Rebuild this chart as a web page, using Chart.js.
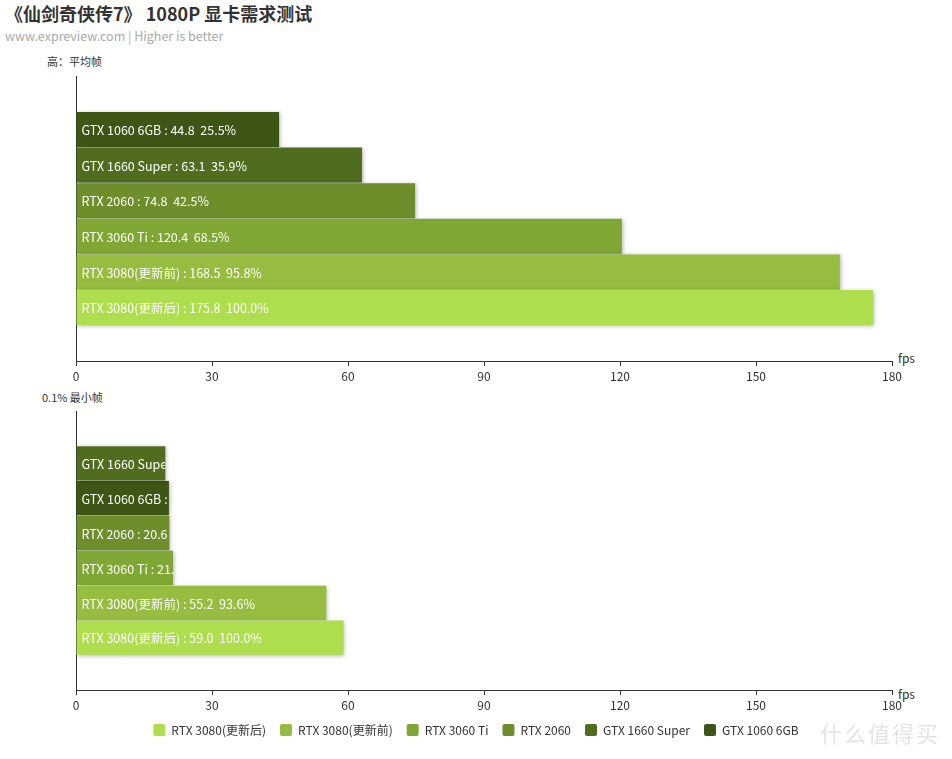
<!DOCTYPE html>
<html>
<head>
<meta charset="utf-8">
<script src="https://cdn.jsdelivr.net/npm/chart.js@4.4.0/dist/chart.umd.min.js"></script>
<style>
  body { margin: 0; background: #fff; width: 952px; height: 759px; position: relative; overflow: hidden;
         font-family: "Microsoft YaHei", "Noto Sans CJK SC", sans-serif; }
  .t { position: absolute; white-space: nowrap; color: #333; }
  #title { left: 5px; top: 0px; font-size: 18px; font-weight: bold; }
  #sub { left: 5px; top: 26px; font-size: 12.5px; color: #aaa; }
  #n1 { left: 47px; top: 53px; font-size: 11px; }
  #n2 { left: 42px; top: 389px; font-size: 11px; }
  .fps { font-size: 12px; }
  #wm { right: 12px; top: 716px; font-size: 22px; color: #e4e4e4; letter-spacing: 2px; }
  canvas { position: absolute; left: 0; }
</style>
</head>
<body>
<div class="t" id="title">《仙剑奇侠传7》 1080P 显卡需求测试</div>
<div class="t" id="sub">www.expreview.com | Higher is better</div>
<div class="t" id="n1">高：平均帧</div>
<div class="t" id="n2">0.1% 最小帧</div>
<div class="t fps" style="left:898px;top:349px">fps</div>
<div class="t fps" style="left:898px;top:685px">fps</div>
<canvas id="avg" width="952" height="390" style="top:0"></canvas>
<canvas id="min" width="952" height="369" style="top:390px"></canvas>
<div class="t" id="wm">什么值得买</div>
<script>
// legend order
const gpus = ['RTX 3080(更新后)', 'RTX 3080(更新前)', 'RTX 3060 Ti', 'RTX 2060', 'GTX 1660 Super', 'GTX 1060 6GB']
const avgFps = [175.8, 168.5, 120.4, 74.8, 63.1, 44.8]
const minFps = [59.0, 55.2, 21.4, 20.6, 19.7, 20.5]
// row order, top to bottom
const avgRows = ['GTX 1060 6GB', 'GTX 1660 Super', 'RTX 2060', 'RTX 3060 Ti', 'RTX 3080(更新前)', 'RTX 3080(更新后)']
const minRows = ['GTX 1660 Super', 'GTX 1060 6GB', 'RTX 2060', 'RTX 3060 Ti', 'RTX 3080(更新前)', 'RTX 3080(更新后)']
const fpsMin = 0
const fpsMax = 180
const fpsStep = 30

const colors = ['#aedd4d', '#96bc40', '#80a634', '#6d8e2b', '#506c1f', '#3d5515']
const FONT = '"Microsoft YaHei", "Noto Sans CJK SC", sans-serif'

// soft shadow under bars, then white labels clipped to each bar
const barDeco = {
  id: 'barDeco',
  beforeDatasetsDraw(chart) {
    const ctx = chart.ctx
    ctx.save()
    ctx.shadowColor = 'rgba(0, 0, 0, 0.3)'
    ctx.shadowBlur = 4
    ctx.shadowOffsetX = 1
    ctx.shadowOffsetY = 1
  },
  afterDatasetsDraw(chart) {
    const ctx = chart.ctx
    ctx.restore()
    const vals = chart.data.datasets.map(d => d.data.find(v => v !== null))
    const top = Math.max(...vals)
    chart.data.datasets.forEach((ds, i) => {
      const meta = chart.getDatasetMeta(i)
      meta.data.forEach((bar, j) => {
        const v = ds.data[j]
        if (v === null || v === undefined) return
        const h = bar.height
        ctx.save()
        ctx.beginPath()
        ctx.rect(bar.base, bar.y - h / 2, bar.x - bar.base, h)
        ctx.clip()
        ctx.fillStyle = '#fff'
        ctx.font = '12.5px ' + FONT
        ctx.textBaseline = 'middle'
        const pct = (v / top * 100).toFixed(1)
        ctx.fillText(`${ds.label} : ${v.toFixed(1)}  ${pct}%`, bar.base + 5, bar.y + 1)
        ctx.restore()
      })
    })
  }
}

function makeChart(id, rows, values, opts) {
  const labels = ['', ...rows, '']
  const datasets = gpus.map((g, i) => ({
    label: g,
    data: labels.map(l => (l === g ? values[i] : null)),
    backgroundColor: colors[i],
    borderWidth: 0,
    categoryPercentage: 1,
    barPercentage: 0.98
  }))
  return new Chart(document.getElementById(id), {
    type: 'bar',
    data: { labels, datasets },
    plugins: [barDeco],
    options: {
      indexAxis: 'y',
      responsive: false,
      animation: false,
      layout: { padding: opts.padding },
      plugins: {
        tooltip: { enabled: false },
        legend: opts.legend
      },
      scales: {
        x: {
          stacked: true,
          min: fpsMin,
          max: fpsMax,
          ticks: { stepSize: fpsStep, color: '#333', padding: 3, font: { size: 12, family: FONT } },
          grid: { drawOnChartArea: false, drawTicks: true, tickLength: 5, color: '#333' },
          border: { display: true, color: '#333', width: 1 },
          afterFit: (s) => { s.height = opts.xHeight }
        },
        y: {
          stacked: true,
          ticks: { display: false },
          grid: { display: false },
          border: { display: true, color: '#333', width: 1 },
          afterFit: (s) => { s.width = 76 }
        },
        // empty right-hand gutter so the legend stays centred on the page
        gutter: {
          type: 'category',
          axis: 'y',
          position: 'right',
          ticks: { display: false },
          grid: { display: false },
          border: { display: false },
          afterFit: (s) => { s.width = 60 }
        }
      }
    }
  })
}

makeChart('avg', avgRows, avgFps, {
  padding: { left: 0, top: 76, right: 0, bottom: 0 },
  xHeight: 29,
  legend: { display: false }
})

makeChart('min', minRows, minFps, {
  padding: { left: 0, top: 21, right: 0, bottom: 13 },
  xHeight: 20,
  legend: {
    display: true,
    position: 'bottom',
    labels: {
      boxWidth: 12,
      boxHeight: 12,
      useBorderRadius: true,
      borderRadius: 2,
      padding: 14,
      color: '#333',
      font: { size: 12, family: FONT }
    }
  }
})
</script>
</body>
</html>
